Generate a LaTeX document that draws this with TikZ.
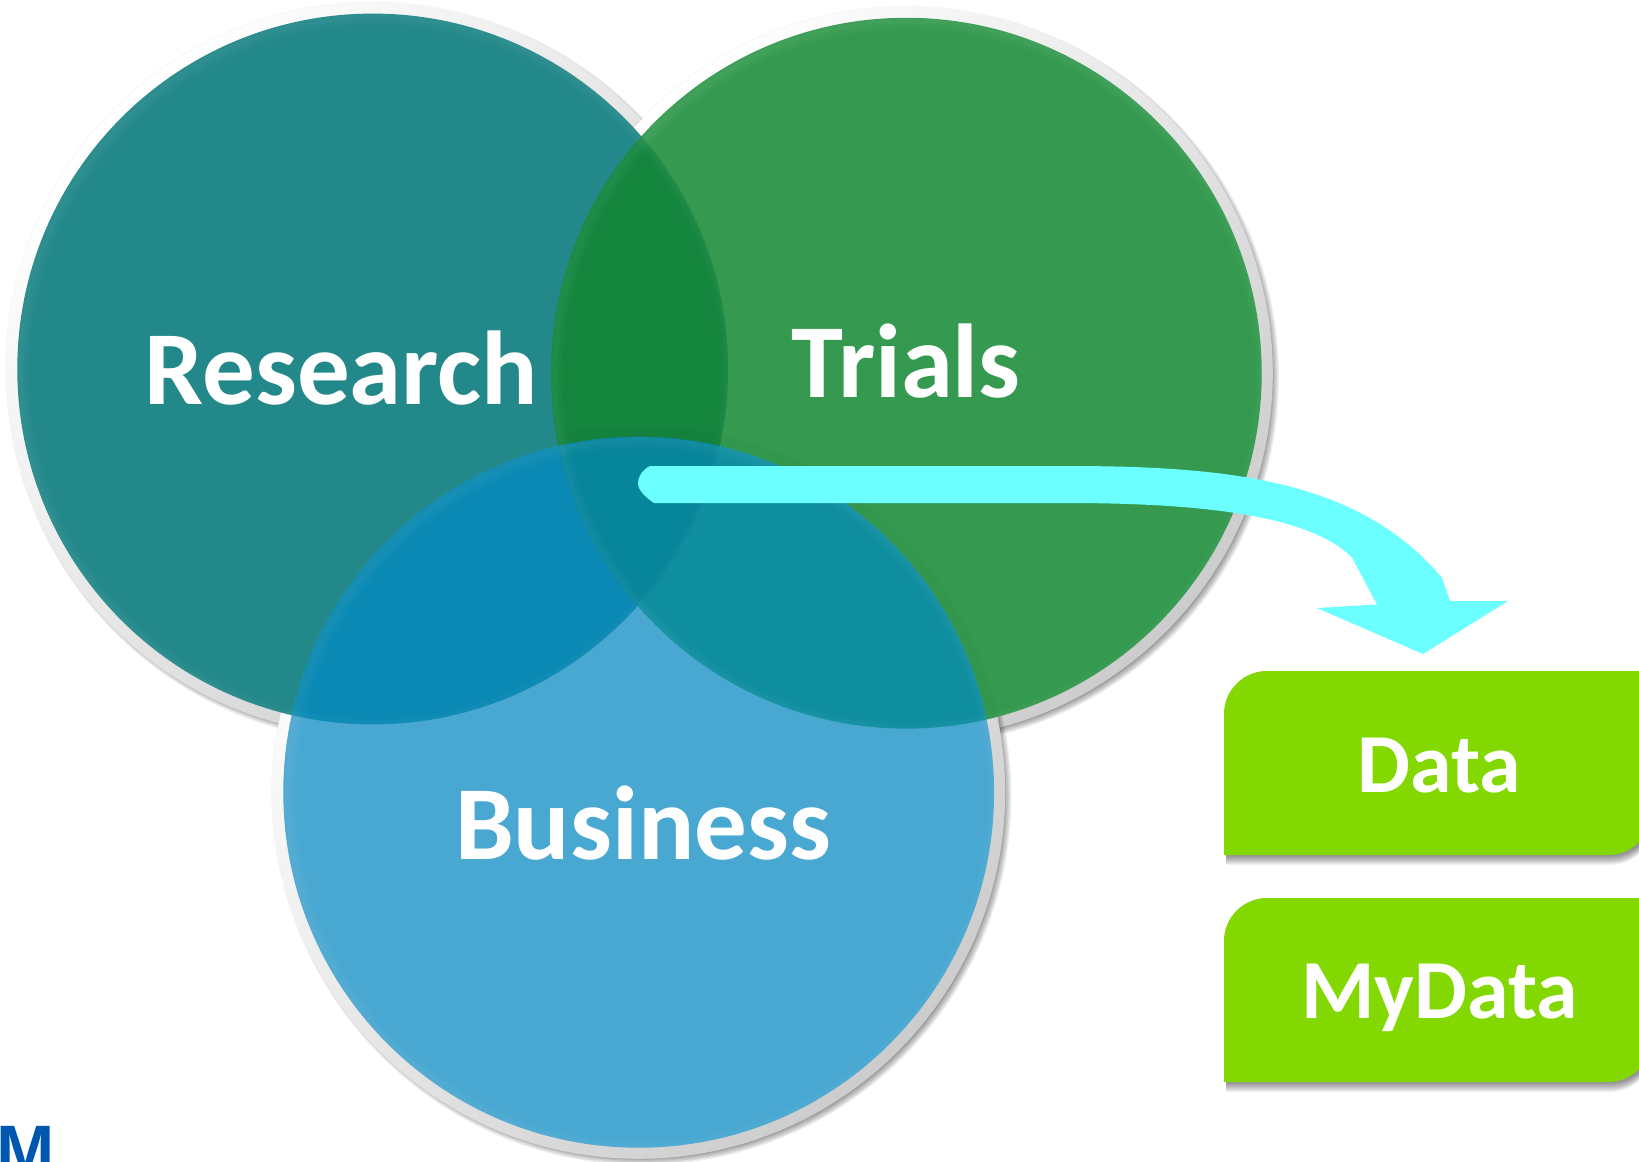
\documentclass[tikz,border=0pt]{standalone}
\usepackage{fontspec}
\setmainfont{Carlito}
\newfontfamily\logofont{Liberation Sans}
\definecolor{cR}{HTML}{23888A}
\definecolor{cT}{HTML}{359A4F}
\definecolor{cB}{HTML}{49A8D2}
\definecolor{cRT}{HTML}{15863E}
\definecolor{cRB}{HTML}{0B89B5}
\definecolor{cTB}{HTML}{0F8E9F}
\definecolor{cRTB}{HTML}{07859A}
\definecolor{cArrow}{HTML}{6CFFFF}
\definecolor{cBox}{HTML}{82D800}
\definecolor{cLogo}{HTML}{0057B0}
\tikzset{
  bigtext/.style={inner sep=0pt,anchor=base,text=white,font=\bfseries\fontsize{105}{105}\selectfont},
  boxtext/.style={inner sep=0pt,anchor=base,text=white,font=\bfseries\fontsize{84}{84}\selectfont},
}
\newcommand{\RingAt}[1]{%
  \foreach \k in {1,...,9}{
    \fill[black,opacity=.07] ($(#1)+(4,4)$) circle[radius={357pt+\k*1.3pt}];
  }
  \shade[top color=white,bottom color=black!20,shading angle=45] (#1) circle[radius=366.5pt];
  \draw[black,opacity=.03,line width=1pt] (#1) circle[radius=367pt];
}
\newcommand{\RimAt}[1]{%
  \begin{scope}
    \clip (#1) circle[radius=355.4pt];
    \foreach \w in {3,6,...,18}{
      \draw[white,opacity=.012,line width=\w pt] ($(#1)+(3,3)$) circle[radius=355.4pt];
    }
  \end{scope}
}
\newcommand{\BoxShape}[1]{%
  (1224,#1+184) -- (1224,#1+43) arc[start angle=180,end angle=90,radius=43pt]
  -- (1652,#1) -- (1652,#1+140) arc[start angle=0,end angle=-90,radius=44pt] -- cycle
}
\usetikzlibrary{calc}
\begin{document}
\begin{tikzpicture}[x=1pt,y=-1pt]
\useasboundingbox (0,0) rectangle (1639,1162);
\clip (0,0) rectangle (1639,1162);
\fill[white] (0,0) rectangle (1639,1162);

\coordinate (rc) at (372.7,369);
\coordinate (tc) at (906.3,373.2);
\coordinate (bc) at (638.7,792.3);

% logo fragment
\node[inner sep=0pt,anchor=base west,text=cLogo,font=\logofont\bfseries\fontsize{70}{70}\selectfont] (logo) at (-4,1174) {M};

% halos and shadows
\RingAt{rc}
\RingAt{tc}
\RingAt{bc}

% flat circles and overlaps
\fill[cR] (rc) circle[radius=355.4pt];
\fill[cT] (tc) circle[radius=355.4pt];
\fill[cB] (bc) circle[radius=355.4pt];
\begin{scope}
  \clip (rc) circle[radius=355.4pt];
  \fill[cRT] (tc) circle[radius=355.4pt];
  \fill[cRB] (bc) circle[radius=355.4pt];
  \clip (tc) circle[radius=355.4pt];
  \fill[cRTB] (bc) circle[radius=355.4pt];
\end{scope}
\begin{scope}
  \clip (tc) circle[radius=355.4pt];
  \begin{scope}
    \clip (bc) circle[radius=355.4pt];
    \fill[cTB] (tc) circle[radius=355.4pt];
    \clip (rc) circle[radius=355.4pt];
    \fill[cRTB] (bc) circle[radius=355.4pt];
  \end{scope}
  % faint trace of the business halo over the trials circle
  \draw[black,opacity=.025,line width=11pt] (bc) circle[radius=361pt];
\end{scope}
\RimAt{rc}
\RimAt{tc}
\RimAt{bc}

% block arrow
\fill[cArrow] (650,466) -- (1066,466)
  .. controls (1230,466) and (1360,480) .. (1442,578)
  -- (1450,601) -- (1508,601) -- (1423,654) -- (1317,608) -- (1377,604.5) -- (1352,557.5)
  .. controls (1310,515) and (1200,503) .. (1066,503)
  -- (654,503)
  .. controls (645,497) and (638,490) .. (638,483)
  .. controls (638,477) and (642,470) .. (650,466) -- cycle;

% green boxes
\foreach \t in {671,898}{
  \foreach \k in {1,...,10}{
    \fill[black,opacity=.05] [yshift=-\k pt,xshift=2pt] \BoxShape{\t};
  }
  \fill[cBox] \BoxShape{\t};
}

% labels
\node[bigtext] (research) at (341.3,404.5) {Research};
\node[bigtext] (trials) at (906,397) {Trials};
\node[bigtext] (business) at (643,859) {Business};
\node[boxtext] (data) at (1439.4,792) {Data};
\node[boxtext] (mydata) at (1439.4,1018) {MyData};
\end{tikzpicture}
\end{document}
